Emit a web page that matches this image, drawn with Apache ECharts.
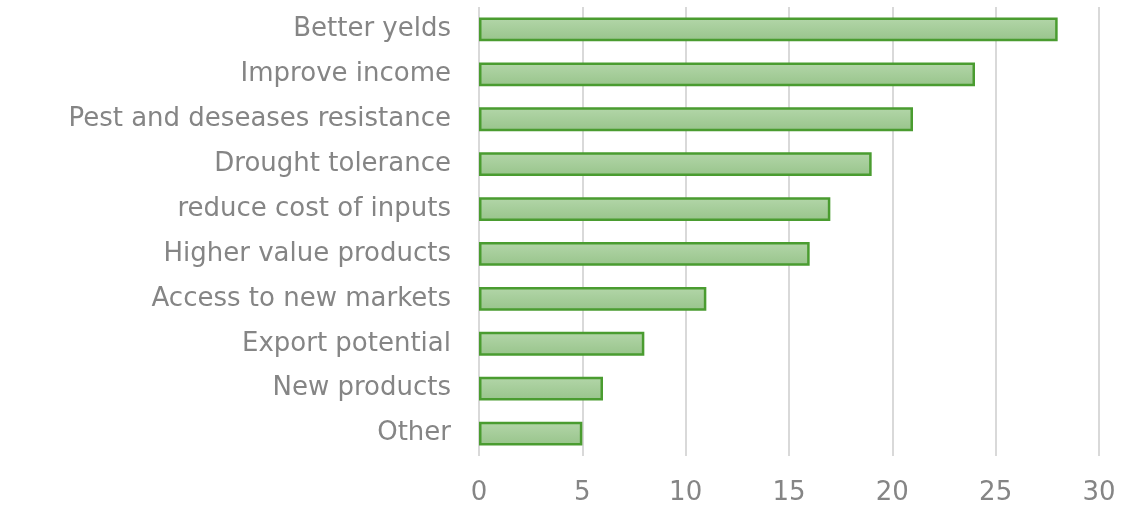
<!DOCTYPE html>
<html>
<head>
<meta charset="utf-8">
<script src="https://cdn.jsdelivr.net/npm/echarts@6/dist/echarts.min.js"></script>
<style>
  html, body { margin: 0; padding: 0; background: #fff; }
  #chart { width: 1141px; height: 509px; }
</style>
</head>
<body>
<div id="chart"></div>
<script>
// Reasons listed top to bottom
const categories = [
  'Better yelds',
  'Improve income',
  'Pest and deseases resistance',
  'Drought tolerance',
  'reduce cost of inputs',
  'Higher value products',
  'Access to new markets',
  'Export potential',
  'New products',
  'Other'
];
const values = [28, 24, 21, 19, 17, 16, 11, 8, 6, 5];
const xTicks = [0, 5, 10, 15, 20, 25, 30];

const chart = echarts.init(document.getElementById('chart'));
chart.setOption({
  animation: false,
  grid: { left: 479, right: 42, top: 7, bottom: 53, containLabel: false },
  xAxis: {
    type: 'value',
    min: xTicks[0],
    max: xTicks[xTicks.length - 1],
    interval: 5,
    axisLine: { show: false },
    axisTick: { show: false },
    splitLine: { show: true, lineStyle: { color: '#d9d9d9', width: 2 } },
    axisLabel: {
      color: '#858585',
      fontSize: 26,
      fontFamily: 'DejaVu Sans',
      margin: 24
    }
  },
  yAxis: {
    type: 'category',
    data: categories,
    inverse: true,
    axisLine: { show: false },
    axisTick: { show: false },
    axisLabel: {
      color: '#858585',
      fontSize: 26,
      fontFamily: 'DejaVu Sans',
      margin: 28
    }
  },
  series: [{
    type: 'bar',
    data: values,
    barWidth: '53%',
    itemStyle: {
      color: new echarts.graphic.LinearGradient(0, 0, 0, 1, [
        { offset: 0, color: '#b3d6a9' },
        { offset: 1, color: '#98c48b' }
      ]),
      borderColor: '#4a9c30',
      borderWidth: 2.5
    }
  }]
});
</script>
</body>
</html>
